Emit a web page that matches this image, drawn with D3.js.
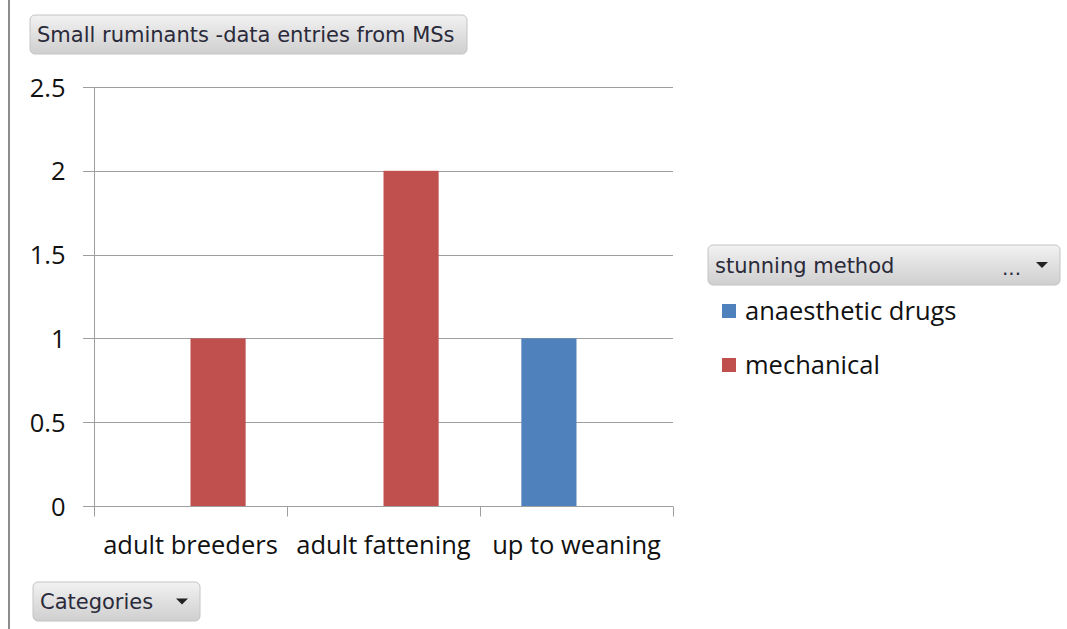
<!DOCTYPE html>
<html>
<head>
<meta charset="utf-8">
<script src="https://cdn.jsdelivr.net/npm/d3@7"></script>
<style>
  body { margin: 0; background: #fff; }
  svg { display: block; }
</style>
</head>
<body>
<script>
const categories = ["adult breeders", "adult fattening", "up to weaning"];
const seriesNames = ["anaesthetic drugs", "mechanical"];
const anaestheticDrugs = [0, 0, 1];
const mechanical = [1, 2, 0];
const yTicks = [0, 0.5, 1, 1.5, 2, 2.5];
const colors = ["#4f81bd", "#c0504d"];

const W = 1067, H = 629;
const svg = d3.select("body").append("svg").attr("width", W).attr("height", H);

const defs = svg.append("defs");
const grad = defs.append("linearGradient").attr("id", "btn").attr("x1", 0).attr("y1", 0).attr("x2", 0).attr("y2", 1);
grad.append("stop").attr("offset", "0%").attr("stop-color", "#f2f2f2");
grad.append("stop").attr("offset", "50%").attr("stop-color", "#e0e0e0");
grad.append("stop").attr("offset", "100%").attr("stop-color", "#cfcfcf");

// left frame line
svg.append("line").attr("x1", 9).attr("x2", 9).attr("y1", 0).attr("y2", H)
  .attr("stroke", "#8c8c8c").attr("stroke-width", 2);

const x0 = d3.scaleBand().domain(categories).range([94, 673]).paddingInner(0).paddingOuter(0);
const y = d3.scaleLinear().domain([0, 2.5]).range([506, 87]);
// excel gap width 150%: two bars take 2/3.5 of band
const barW = x0.bandwidth() / 3.5;
const x1 = d3.scaleBand().domain(seriesNames).range([0, barW * 2]);

const axisFont = "'Open Sans', sans-serif";
const axisSize = 25.5;

// gridlines
svg.append("g").selectAll("line").data(yTicks).join("line")
  .attr("x1", 83).attr("x2", 673)
  .attr("y1", d => Math.round(y(d)) + 0.5).attr("y2", d => Math.round(y(d)) + 0.5)
  .attr("stroke", "#9e9e9e").attr("stroke-width", 1);

// bars
const data = categories.map((c, i) => ({cat: c, vals: [anaestheticDrugs[i], mechanical[i]]}));
const groups = svg.append("g").selectAll("g").data(data).join("g")
  .attr("transform", d => `translate(${x0(d.cat) + (x0.bandwidth() - barW * 2) / 2},0)`);
groups.selectAll("rect").data(d => d.vals.map((v, j) => ({s: seriesNames[j], v, j})))
  .join("rect")
  .attr("x", d => x1(d.s))
  .attr("width", x1.bandwidth())
  .attr("y", d => y(d.v))
  .attr("height", d => y(0) - y(d.v))
  .attr("fill", d => colors[d.j]);

// y axis
const yAxis = svg.append("g").attr("transform", "translate(94.5,0)")
  .call(d3.axisLeft(y).tickValues(yTicks).tickSize(11).tickPadding(18)
    .tickFormat(d => d3.format("")(d)));
yAxis.select(".domain").attr("stroke", "#9e9e9e").attr("d", `M0,${y(2.5)}V${y(0)}`);
yAxis.selectAll(".tick line").remove();
yAxis.selectAll("text").attr("font-family", axisFont).attr("font-size", axisSize).attr("fill", "#111")
  .attr("dy", "0.36em");

// x axis
const xAxis = svg.append("g").attr("transform", `translate(0,${Math.round(y(0)) + 0.5})`)
  .call(d3.axisBottom(x0).tickSize(0).tickPadding(29));
xAxis.select(".domain").remove();
xAxis.selectAll("text").attr("font-family", axisFont).attr("font-size", axisSize).attr("fill", "#111");
xAxis.append("g").selectAll("line").data([94, 287, 480, 673])
  .join("line").attr("x1", d => d + 0.5).attr("x2", d => d + 0.5).attr("y1", 0).attr("y2", 10)
  .attr("stroke", "#9e9e9e");

// buttons
const btnFont = "'DejaVu Sans', Tahoma, sans-serif";
function button(x, yy, w, h, label, fs, extra) {
  const g = svg.append("g").attr("transform", `translate(${x},${yy})`);
  g.append("rect").attr("width", w).attr("height", h).attr("rx", 5)
    .attr("fill", "url(#btn)").attr("stroke", "#c4c4c4");
  g.append("text").attr("x", 7).attr("y", h / 2).attr("dy", "0.36em")
    .attr("font-family", btnFont).attr("font-size", fs).attr("fill", "#2a2a3a").text(label);
  if (extra) extra(g, w, h);
  return g;
}
function arrow(g, cx, cy) {
  g.append("path").attr("d", `M${cx - 6},${cy - 3}L${cx + 6},${cy - 3}L${cx},${cy + 3}Z`).attr("fill", "#222");
}

button(30, 15, 437, 39, "Small ruminants -data entries from MSs", 21);
button(708, 245, 352, 40, "stunning method", 21, (g, w, h) => {
  g.append("text").attr("x", 294).attr("y", h / 2 + 3).attr("dy", "0.36em")
    .attr("font-family", btnFont).attr("font-size", 20).attr("fill", "#2a2a3a").text("...");
  arrow(g, 334, h / 2);
});
button(33, 582, 167, 39, "Categories", 21, (g, w, h) => arrow(g, 149, h / 2));

// legend
const legend = svg.append("g").selectAll("g").data(seriesNames).join("g")
  .attr("transform", (d, i) => `translate(722,${311 + i * 54})`);
legend.append("rect").attr("x", 0).attr("y", -7).attr("width", 14).attr("height", 14)
  .attr("fill", (d, i) => colors[i]);
legend.append("text").attr("x", 23).attr("dy", "0.36em")
  .attr("font-family", axisFont).attr("font-size", axisSize).attr("fill", "#111").text(d => d);
</script>
</body>
</html>
